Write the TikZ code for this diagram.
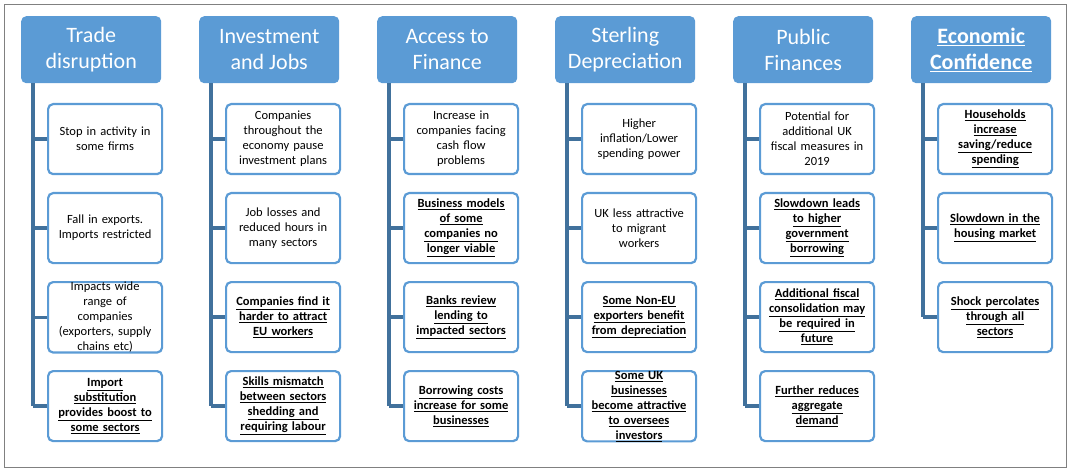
\documentclass[tikz,border=0pt]{standalone}
\usepackage{fontspec}
\setmainfont{Carlito}
\begin{document}
\begin{tikzpicture}[x=1pt,y=-1pt,
 hdr/.style={draw=none,fill=hblue,rounded corners=5pt,minimum width=140pt,minimum height=67pt,text=white,align=center,font=\fontsize{22}{26}\selectfont,anchor=north west,inner sep=0pt},
 kid/.style={draw=hblue,line width=2.2pt,fill=white,rounded corners=5pt,minimum width=114pt,minimum height=70pt,text width=112pt,align=center,font=\fontsize{12.5}{15}\selectfont,anchor=north west,inner sep=0pt},
 trunk/.style={draw=lblue,line width=3.5pt}]
\definecolor{hblue}{HTML}{5B9BD5}
\definecolor{lblue}{HTML}{41719C}
\useasboundingbox (0,0) rectangle (1071,473);
\draw[gray,line width=0.8pt] (4,4) rectangle (1066,467);
\newcommand{\B}[1]{\textbf{\underline{#1}}}
\foreach \n/\x/\h in {1/21/{Trade\\disruption},2/199/{Investment\\and Jobs},3/377/{Access to\\Finance},4/555/{Sterling\\Depreciation},5/733/{Public\\Finances},6/911/{\underline{\textbf{Economic}}\\\underline{\textbf{Confidence}}}}{
 \node[hdr] (h\n) at (\x,16) {\h};
}
\newcommand{\kids}[2]{%
 \foreach \t [count=\i] in {#2} {
  \pgfmathsetmacro{\yy}{103+89*(\i-1)}
  \node[kid] (k#1\i) at ([xshift=26pt]h#1.south west |- 0,\yy) {\t};
  \coordinate (j#1\i) at ([xshift=12pt]h#1.south west |- k#1\i.west);
  \draw[trunk] (j#1\i) -- (k#1\i.west);
 }
}
\kids{1}{{Stop in activity in\\some firms},{Fall in exports.\\Imports restricted},{Impacts wide\\range of\\companies\\(exporters, supply\\chains etc)},{\B{Import}\\\B{substitution}\\\B{provides boost to}\\\B{some sectors}}}
\kids{2}{{Companies\\throughout the\\economy pause\\investment plans},{Job losses and\\reduced hours in\\many sectors},{\B{Companies find it}\\\B{harder to attract}\\\B{EU workers}},{\B{Skills mismatch}\\\B{between sectors}\\\B{shedding and}\\\B{requiring labour}}}
\kids{3}{{Increase in\\companies facing\\cash flow\\problems},{\B{Business models}\\\B{of some}\\\B{companies no}\\\B{longer viable}},{\B{Banks review}\\\B{lending to}\\\B{impacted sectors}},{\B{Borrowing costs}\\\B{increase for some}\\\B{businesses}}}
\kids{4}{{Higher\\inflation/Lower\\spending power},{UK less attractive\\to migrant\\workers},{\B{Some Non-EU}\\\B{exporters benefit}\\\B{from depreciation}},{\B{Some UK}\\\B{businesses}\\\B{become attractive}\\\B{to oversees}\\\B{investors}}}
\kids{5}{{Potential for\\additional UK\\fiscal measures in\\2019},{\B{Slowdown leads}\\\B{to higher}\\\B{government}\\\B{borrowing}},{\B{Additional fiscal}\\\B{consolidation may}\\\B{be required in}\\\B{future}},{\B{Further reduces}\\\B{aggregate}\\\B{demand}}}
\kids{6}{{\B{Households}\\\B{increase}\\\B{saving/reduce}\\\B{spending}},{\B{Slowdown in the}\\\B{housing market}},{\B{Shock percolates}\\\B{through all}\\\B{sectors}}}
\foreach \n/\m in {1/4,2/4,3/4,4/4,5/4,6/3}{
 \draw[trunk] ([xshift=12pt]h\n.south west) -- (j\n\m);
}
\end{tikzpicture}
\end{document}
